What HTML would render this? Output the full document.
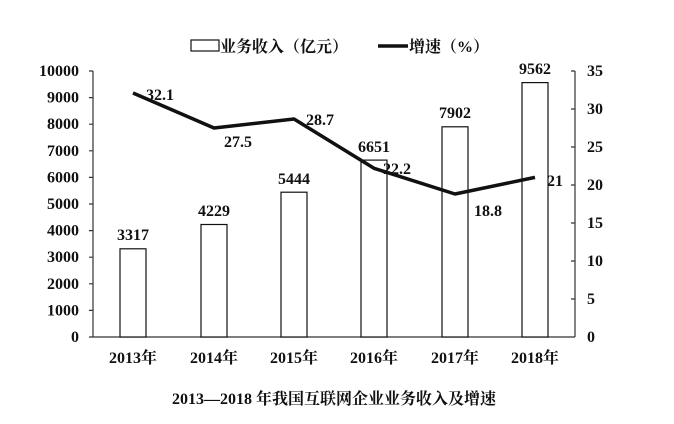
<!DOCTYPE html><html><head><meta charset="utf-8"><style>body{margin:0;background:#fff}svg{display:block}text{font-family:"Liberation Serif","Noto Serif CJK SC",serif;font-weight:bold;fill:#111;font-size:16px}</style></head><body>
<svg width="674" height="424" xmlns="http://www.w3.org/2000/svg">
<rect width="674" height="424" fill="#fff"/>
<rect x="191" y="40" width="28" height="11" fill="#fff" stroke="#111" stroke-width="1.2"/>
<text x="220" y="52">业务收入（亿元）</text>
<line x1="378" y1="46" x2="408" y2="46" stroke="#111" stroke-width="3.5"/>
<text x="409" y="52">增速（%）</text>
<g stroke="#333" stroke-width="1.2" fill="none">
<line x1="93" y1="71" x2="93" y2="337"/>
<line x1="93" y1="337" x2="575" y2="337"/>
<line x1="575" y1="71" x2="575" y2="337"/>
<path d="M89 71H93M89 97.6H93M89 124.2H93M89 150.8H93M89 177.4H93M89 204H93M89 230.6H93M89 257.2H93M89 283.8H93M89 310.4H93M89 337H93"/>
<path d="M571 71H575M571 109H575M571 147H575M571 185H575M571 223H575M571 261H575M571 299H575"/>
</g>
<g text-anchor="end">
<text x="79" y="76">10000</text><text x="79" y="102.6">9000</text><text x="79" y="129.2">8000</text><text x="79" y="155.8">7000</text><text x="79" y="182.4">6000</text><text x="79" y="209">5000</text><text x="79" y="235.6">4000</text><text x="79" y="262.2">3000</text><text x="79" y="288.8">2000</text><text x="79" y="315.4">1000</text><text x="79" y="342">0</text>
</g>
<g>
<text x="587" y="76">35</text><text x="587" y="114">30</text><text x="587" y="152">25</text><text x="587" y="190">20</text><text x="587" y="228">15</text><text x="587" y="266">10</text><text x="587" y="304">5</text><text x="587" y="342">0</text>
</g>
<g fill="#fff" stroke="#111" stroke-width="1.2">
<rect x="120" y="248.8" width="26" height="88.2"/>
<rect x="201" y="224.5" width="26" height="112.5"/>
<rect x="281" y="192.2" width="26" height="144.8"/>
<rect x="361" y="160.1" width="26" height="176.9"/>
<rect x="442" y="126.8" width="26" height="210.2"/>
<rect x="522" y="82.6" width="26" height="254.4"/>
</g>
<g text-anchor="middle">
<text x="133" y="240">3317</text><text x="214" y="216">4229</text><text x="294" y="184">5444</text><text x="374" y="152">6651</text><text x="455" y="118">7902</text><text x="535" y="74">9562</text>
</g>
<polyline points="133,93 214,128 294,119 374,168.3 455,194 535,177.4" fill="none" stroke="#111" stroke-width="3.5" stroke-linejoin="round"/>
<text x="146" y="100">32.1</text><text x="224" y="147">27.5</text><text x="306" y="125">28.7</text><text x="383" y="174">22.2</text><text x="474" y="216">18.8</text><text x="547" y="186">21</text>
<g text-anchor="middle">
<text x="133" y="363">2013年</text><text x="214" y="363">2014年</text><text x="294" y="363">2015年</text><text x="374" y="363">2016年</text><text x="455" y="363">2017年</text><text x="535" y="363">2018年</text>
</g>
<text x="334" y="404" text-anchor="middle" font-size="15.5">2013—2018 年我国互联网企业业务收入及增速</text>
</svg></body></html>
